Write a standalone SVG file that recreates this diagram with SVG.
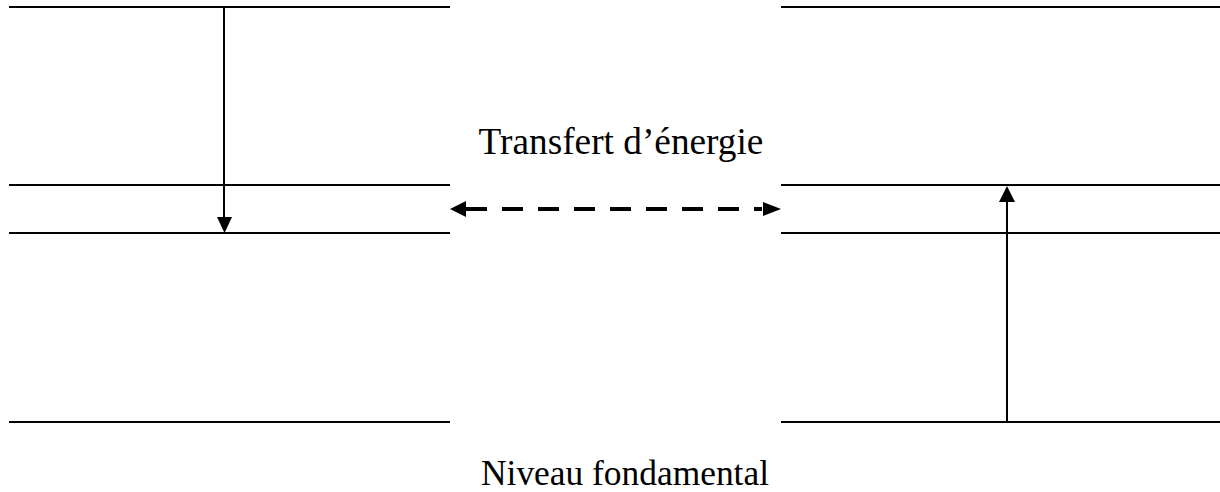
<svg xmlns="http://www.w3.org/2000/svg" width="1220" height="492" viewBox="0 0 1220 492">
<style>
.lvl{stroke:#000;stroke-width:2;fill:none}
.arr{stroke:#000;stroke-width:2;fill:none}
.dash{stroke:#000;stroke-width:4;fill:none;stroke-dasharray:21 15}
.lbl{font-family:"Liberation Serif","Times New Roman",serif;font-size:36px;fill:#000;text-anchor:middle}
</style>
<rect width="1220" height="492" fill="#fff"/>
<g id="left-levels">
<line class="lvl" x1="9" y1="7" x2="450" y2="7"/>
<line class="lvl" x1="9" y1="185" x2="450" y2="185"/>
<line class="lvl" x1="9" y1="233" x2="450" y2="233"/>
<line class="lvl" x1="9" y1="422" x2="450" y2="422"/>
</g>
<g id="right-levels">
<line class="lvl" x1="781" y1="7" x2="1220" y2="7"/>
<line class="lvl" x1="781" y1="185" x2="1220" y2="185"/>
<line class="lvl" x1="781" y1="233" x2="1220" y2="233"/>
<line class="lvl" x1="781" y1="422" x2="1220" y2="422"/>
</g>
<g id="connectors">
<line class="arr" x1="224" y1="7" x2="224" y2="218"/>
<polygon points="217,217 232,217 224.5,233" fill="#000"/>
<line class="arr" x1="1007" y1="422" x2="1007" y2="200"/>
<polygon points="999,202 1015,202 1007,186" fill="#000"/>
<line class="dash" x1="466" y1="209" x2="762" y2="209"/>
<polygon points="450,209 466,201 466,217" fill="#000"/>
<polygon points="781,209 763,202 763,216" fill="#000"/>
</g>
<g id="label-transfer">
<text class="lbl" x="621" y="154" style="font-size:37.3px">Transfert d’énergie</text>
</g>
<g id="label-ground">
<text class="lbl" x="625" y="485" style="font-size:35.4px">Niveau fondamental</text>
</g>
</svg>
